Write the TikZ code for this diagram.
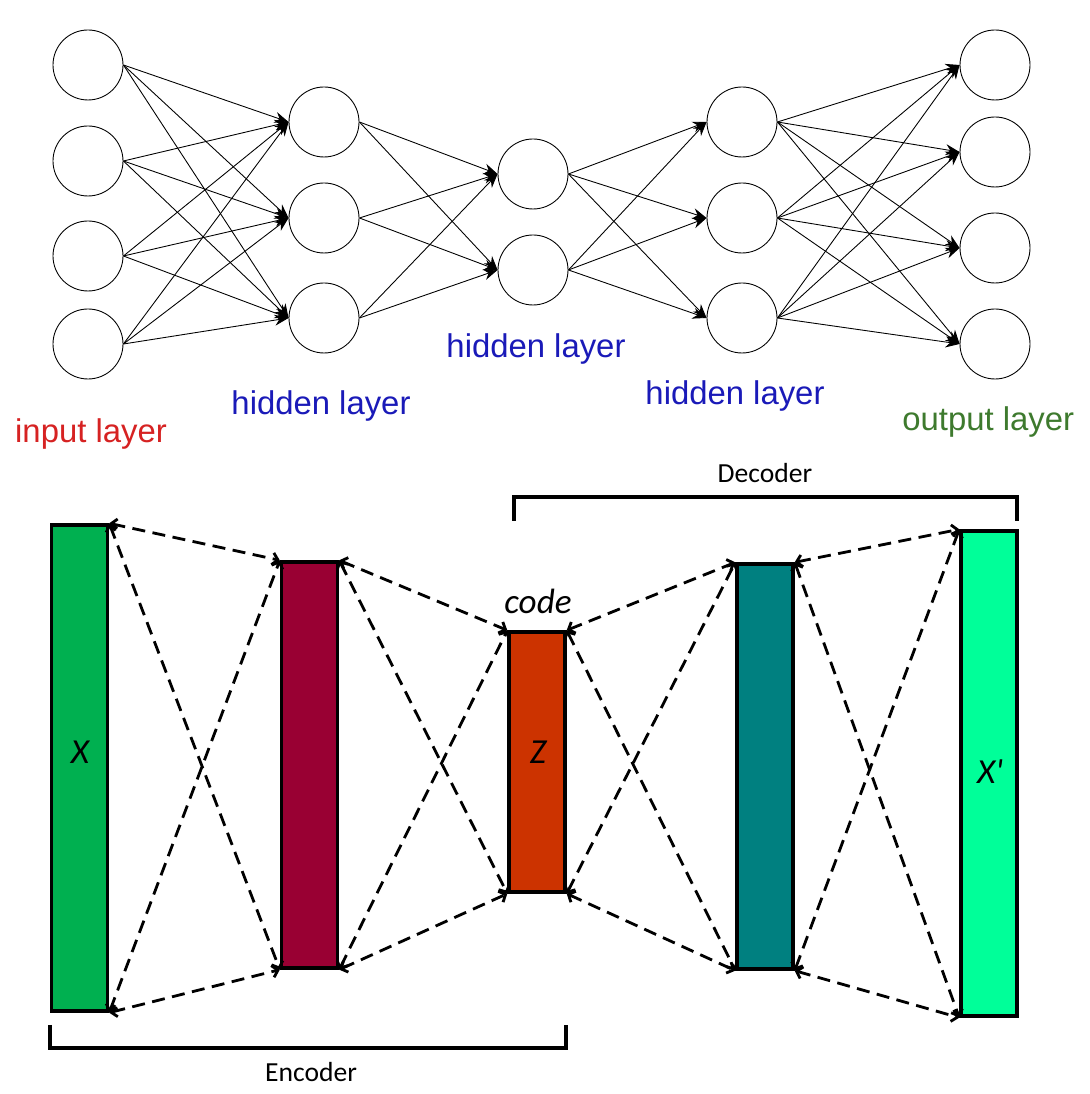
\documentclass[tikz,border=0pt]{standalone}
\usepackage{fontspec}
\setmainfont{Liberation Sans}
\newfontfamily\calibri{Carlito}
\usetikzlibrary{arrows.meta}
\definecolor{inred}{RGB}{214,34,34}
\definecolor{hidblue}{RGB}{26,26,184}
\definecolor{outgreen}{RGB}{62,122,46}
\definecolor{xgreen}{RGB}{0,176,80}
\definecolor{encmaroon}{RGB}{153,0,51}
\definecolor{zorange}{RGB}{204,51,0}
\definecolor{decteal}{RGB}{0,128,128}
\definecolor{xmint}{RGB}{0,255,153}
\tikzset{
    neuron/.style={
        circle, draw=black, line width=0.5pt,
        minimum size=1.4cm, fill=white
    },
    link/.style={draw=black, line width=0.5pt, -{Stealth[length=2.8mm,width=2.2mm]}},
    layerlabel/.style={font=\fontsize{18.7}{22}\selectfont, inner sep=0pt},
    codelayer/.style={
        rectangle, draw=black, line width=1.9pt,
        minimum width=1.12cm
    },
    dashlink/.style={draw=black, line width=1.6pt, dash pattern=on 2.6mm off 1.5mm,
        {Straight Barb[length=1.1mm,width=2.4mm]}-{Straight Barb[length=1.1mm,width=2.4mm]}},
    bracket/.style={draw=black, line width=2.2pt},
    blocklabel/.style={font=\calibri\fontsize{15.7}{18}\selectfont},
    varlabel/.style={font=\calibri\itshape\fontsize{20}{24}\selectfont}
}

\begin{document}
\begin{tikzpicture}
\useasboundingbox (0,0) rectangle (21.8,21.88);

% Input layer
\node[neuron] (in1) at (1.76,20.58) {};
\node[neuron] (in2) at (1.76,18.66) {};
\node[neuron] (in3) at (1.76,16.76) {};
\node[neuron] (in4) at (1.76,15.00) {};

% First hidden layer
\node[neuron] (hA1) at (6.48,19.44) {};
\node[neuron] (hA2) at (6.48,17.52) {};
\node[neuron] (hA3) at (6.48,15.52) {};

% Middle hidden layer
\node[neuron] (hB1) at (10.66,18.40) {};
\node[neuron] (hB2) at (10.66,16.48) {};

% Third hidden layer
\node[neuron] (hC1) at (14.84,19.44) {};
\node[neuron] (hC2) at (14.84,17.52) {};
\node[neuron] (hC3) at (14.84,15.52) {};

% Output layer
\node[neuron] (out1) at (19.90,20.58) {};
\node[neuron] (out2) at (19.90,18.84) {};
\node[neuron] (out3) at (19.90,16.92) {};
\node[neuron] (out4) at (19.90,15.00) {};

\draw[link] (in1.east) -- (hA1.west);
\draw[link] (in1.east) -- (hA2.west);
\draw[link] (in1.east) -- (hA3.west);
\draw[link] (in2.east) -- (hA1.west);
\draw[link] (in2.east) -- (hA2.west);
\draw[link] (in2.east) -- (hA3.west);
\draw[link] (in3.east) -- (hA1.west);
\draw[link] (in3.east) -- (hA2.west);
\draw[link] (in3.east) -- (hA3.west);
\draw[link] (in4.east) -- (hA1.west);
\draw[link] (in4.east) -- (hA2.west);
\draw[link] (in4.east) -- (hA3.west);

\draw[link] (hA1.east) -- (hB1.west);
\draw[link] (hA1.east) -- (hB2.west);
\draw[link] (hA2.east) -- (hB1.west);
\draw[link] (hA2.east) -- (hB2.west);
\draw[link] (hA3.east) -- (hB1.west);
\draw[link] (hA3.east) -- (hB2.west);

\draw[link] (hB1.east) -- (hC1.west);
\draw[link] (hB1.east) -- (hC2.west);
\draw[link] (hB1.east) -- (hC3.west);
\draw[link] (hB2.east) -- (hC1.west);
\draw[link] (hB2.east) -- (hC2.west);
\draw[link] (hB2.east) -- (hC3.west);

\draw[link] (hC1.east) -- (out1.west);
\draw[link] (hC1.east) -- (out2.west);
\draw[link] (hC1.east) -- (out3.west);
\draw[link] (hC1.east) -- (out4.west);
\draw[link] (hC2.east) -- (out1.west);
\draw[link] (hC2.east) -- (out2.west);
\draw[link] (hC2.east) -- (out3.west);
\draw[link] (hC2.east) -- (out4.west);
\draw[link] (hC3.east) -- (out1.west);
\draw[link] (hC3.east) -- (out2.west);
\draw[link] (hC3.east) -- (out3.west);
\draw[link] (hC3.east) -- (out4.west);

% Layer names
\node[layerlabel, text=inred] (lin) at (1.82,13.20) {input layer};
\node[layerlabel, text=hidblue] (lhA) at (6.42,13.76) {hidden layer};
\node[layerlabel, text=hidblue] (lhB) at (10.72,14.90) {hidden layer};
\node[layerlabel, text=hidblue] (lhC) at (14.70,13.96) {hidden layer};
\node[layerlabel, text=outgreen, anchor=west] (lout) at (18.04,13.44) {output layer};

% Autoencoder blocks
\node[codelayer, fill=xgreen, minimum height=9.72cm] (xin) at (1.59,6.52) {};
\node[codelayer, fill=encmaroon, minimum height=8.12cm] (enc) at (6.19,6.58) {};
\node[codelayer, fill=zorange, minimum height=5.20cm] (code) at (10.74,6.64) {};
\node[codelayer, fill=decteal, minimum height=8.10cm] (dec) at (15.30,6.55) {};
\node[codelayer, fill=xmint, minimum height=9.70cm] (xout) at (19.78,6.41) {};

\node[varlabel] at (1.60,6.84) {X};
\node[varlabel] at (10.76,6.84) {Z};
\node[varlabel] at (19.80,6.44) {X'};
\node[varlabel] at (10.76,9.86) {code};

\draw[dashlink] (xin.north east) -- (enc.north west);
\draw[dashlink] (xin.north east) -- (enc.south west);
\draw[dashlink] (xin.south east) -- (enc.north west);
\draw[dashlink] (xin.south east) -- (enc.south west);

\draw[dashlink] (enc.north east) -- (code.north west);
\draw[dashlink] (enc.north east) -- (code.south west);
\draw[dashlink] (enc.south east) -- (code.north west);
\draw[dashlink] (enc.south east) -- (code.south west);

\draw[dashlink] (code.north east) -- (dec.north west);
\draw[dashlink] (code.north east) -- (dec.south west);
\draw[dashlink] (code.south east) -- (dec.north west);
\draw[dashlink] (code.south east) -- (dec.south west);

\draw[dashlink] (dec.north east) -- (xout.north west);
\draw[dashlink] (dec.north east) -- (xout.south west);
\draw[dashlink] (dec.south east) -- (xout.north west);
\draw[dashlink] (dec.south east) -- (xout.south west);

% Encoder / Decoder brackets
\draw[bracket] (1.00,1.38) -- (1.00,0.92) -- (11.32,0.92) -- (11.32,1.38);
\node[blocklabel] at (6.22,0.44) {Encoder};
\draw[bracket] (10.28,11.46) -- (10.28,11.94) -- (20.34,11.94) -- (20.34,11.46);
\node[blocklabel] at (15.30,12.42) {Decoder};

\end{tikzpicture}
\end{document}
